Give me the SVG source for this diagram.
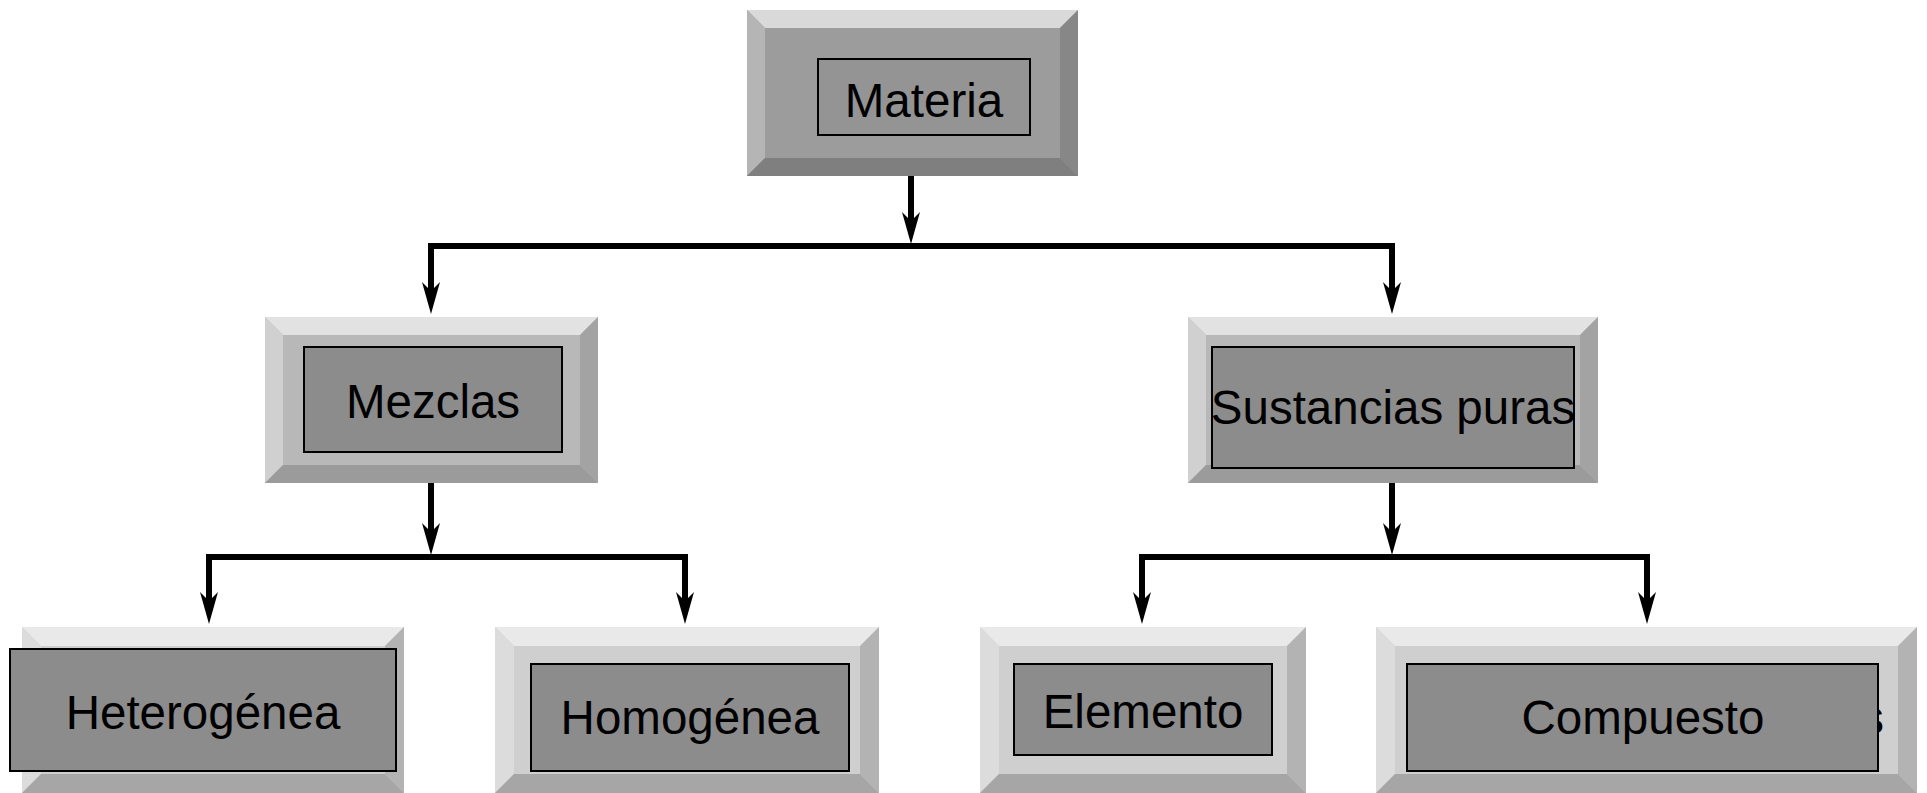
<svg xmlns="http://www.w3.org/2000/svg" xmlns:xlink="http://www.w3.org/1999/xlink" width="1927" height="793" viewBox="0 0 1927 793">
<style>
.lbl{font-family:"Liberation Sans",Arial,sans-serif;font-size:47.5px;fill:#000;text-anchor:middle}
.inner{fill:#8c8c8c;stroke:#000;stroke-width:2}
.d .face{fill:#9c9c9c}.d .t{fill:#d9d9d9}.d .l{fill:#b5b5b5}.d .r{fill:#878787}.d .b{fill:#7f7f7f}
.m .face{fill:#b8b8b8}.m .t{fill:#e2e2e2}.m .l{fill:#d0d0d0}.m .r{fill:#a3a3a3}.m .b{fill:#9b9b9b}
.s .face{fill:#cfcfcf}.s .t{fill:#e9e9e9}.s .l{fill:#dcdcdc}.s .r{fill:#b3b3b3}.s .b{fill:#a6a6a6}
.conn{fill:none;stroke:#000;stroke-width:6;stroke-linejoin:miter}
</style>
<defs>
<path id="ah" d="M0,0 L-9,-32 L0,-23 L9,-32 Z" fill="#000"/>
</defs>
<rect width="1927" height="793" fill="#ffffff"/>

<g id="materia" class="d">
<rect class="face" x="747" y="10" width="331" height="166"/>
<polygon class="t" points="747,10 1078,10 1060,28 765,28"/>
<polygon class="l" points="747,10 765,28 765,158 747,176"/>
<polygon class="r" points="1078,10 1078,176 1060,158 1060,28"/>
<polygon class="b" points="747,176 1078,176 1060,158 765,158"/>
<rect class="inner" x="818" y="59" width="212" height="76" style="fill:#949494"/>
<text class="lbl" x="924" y="117">Materia</text>
</g>

<g id="mezclas" class="m">
<rect class="face" x="265" y="317" width="333" height="166"/>
<polygon class="t" points="265,317 598,317 580,335 283,335"/>
<polygon class="l" points="265,317 283,335 283,465 265,483"/>
<polygon class="r" points="598,317 598,483 580,465 580,335"/>
<polygon class="b" points="265,483 598,483 580,465 283,465"/>
<rect class="inner" x="304" y="347" width="258" height="105"/>
<text class="lbl" x="433" y="418">Mezclas</text>
</g>

<g id="sustancias" class="m">
<rect class="face" x="1188" y="317" width="410" height="166"/>
<polygon class="t" points="1188,317 1598,317 1580,335 1206,335"/>
<polygon class="l" points="1188,317 1206,335 1206,465 1188,483"/>
<polygon class="r" points="1598,317 1598,483 1580,465 1580,335"/>
<polygon class="b" points="1188,483 1598,483 1580,465 1206,465"/>
<rect class="inner" x="1212" y="347" width="362" height="121"/>
<text class="lbl" x="1393" y="424">Sustancias puras</text>
</g>

<g id="heterogenea" class="s">
<rect class="face" x="22" y="627" width="382" height="166"/>
<polygon class="t" points="22,627 404,627 385,646 41,646"/>
<polygon class="l" points="22,627 41,646 41,774 22,793"/>
<polygon class="r" points="404,627 404,793 385,774 385,646"/>
<polygon class="b" points="22,793 404,793 385,774 41,774"/>
<rect class="inner" x="10" y="649" width="386" height="122"/>
<text class="lbl" x="203" y="729">Heterogénea</text>
</g>

<g id="homogenea" class="s">
<rect class="face" x="495" y="627" width="384" height="166"/>
<polygon class="t" points="495,627 879,627 860,646 514,646"/>
<polygon class="l" points="495,627 514,646 514,774 495,793"/>
<polygon class="r" points="879,627 879,793 860,774 860,646"/>
<polygon class="b" points="495,793 879,793 860,774 514,774"/>
<rect class="inner" x="531" y="664" width="318" height="107"/>
<text class="lbl" x="690" y="734">Homogénea</text>
</g>

<g id="elemento" class="s">
<rect class="face" x="980" y="627" width="326" height="166"/>
<polygon class="t" points="980,627 1306,627 1287,646 999,646"/>
<polygon class="l" points="980,627 999,646 999,774 980,793"/>
<polygon class="r" points="1306,627 1306,793 1287,774 1287,646"/>
<polygon class="b" points="980,793 1306,793 1287,774 999,774"/>
<rect class="inner" x="1014" y="664" width="258" height="91"/>
<text class="lbl" x="1143" y="728">Elemento</text>
</g>

<g id="compuesto" class="s">
<rect class="face" x="1376" y="627" width="541" height="166"/>
<polygon class="t" points="1376,627 1917,627 1898,646 1395,646"/>
<polygon class="l" points="1376,627 1395,646 1395,774 1376,793"/>
<polygon class="r" points="1917,627 1917,793 1898,774 1898,646"/>
<polygon class="b" points="1376,793 1917,793 1898,774 1395,774"/>
<text class="lbl" x="1872" y="734">s</text>
<rect class="inner" x="1407" y="664" width="471" height="107"/>
<text class="lbl" x="1643" y="734">Compuesto</text>
</g>

<g id="connectors">
<path class="conn" d="M911,176 V222"/>
<use xlink:href="#ah" x="911" y="244"/>
<path class="conn" d="M431,292 V246 H1392 V292"/>
<use xlink:href="#ah" x="431" y="314"/>
<use xlink:href="#ah" x="1392" y="314"/>
<path class="conn" d="M431,483 V533"/>
<use xlink:href="#ah" x="431" y="555"/>
<path class="conn" d="M209,602 V557 H685 V602"/>
<use xlink:href="#ah" x="209" y="624"/>
<use xlink:href="#ah" x="685" y="624"/>
<path class="conn" d="M1392,483 V533"/>
<use xlink:href="#ah" x="1392" y="555"/>
<path class="conn" d="M1142,602 V557 H1647 V602"/>
<use xlink:href="#ah" x="1142" y="624"/>
<use xlink:href="#ah" x="1647" y="624"/>
</g>
</svg>
